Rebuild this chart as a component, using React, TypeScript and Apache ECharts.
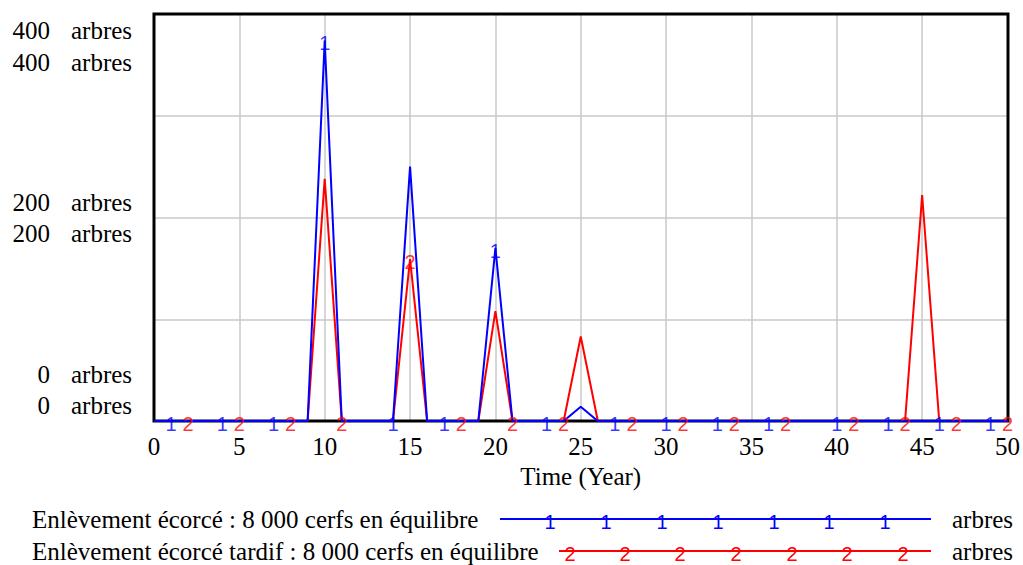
import React, { useEffect, useRef } from "react";
import * as echarts from "echarts";

const years: number[] = Array.from({ length: 51 }, (_, i) => i);
// Enlèvement écorcé : 8 000 cerfs en équilibre (series 1, blue)
const blueValues: number[] = [
  0, 0, 0, 0, 0, 0, 0, 0, 0, 0,
  374, 0, 0, 0, 0, 250, 0, 0, 0, 0,
  170, 0, 0, 0, 0, 14, 0, 0, 0, 0,
  0, 0, 0, 0, 0, 0, 0, 0, 0, 0,
  0, 0, 0, 0, 0, 0, 0, 0, 0, 0,
  0,
];
// Enlèvement écorcé tardif : 8 000 cerfs en équilibre (series 2, red)
const redValues: number[] = [
  0, 0, 0, 0, 0, 0, 0, 0, 0, 0,
  238, 0, 0, 0, 0, 159, 0, 0, 0, 0,
  108, 0, 0, 0, 0, 83, 0, 0, 0, 0,
  0, 0, 0, 0, 0, 0, 0, 0, 0, 0,
  0, 0, 0, 0, 0, 222, 0, 0, 0, 0,
  0,
];
const blueMarkerYears: number[] = [1, 4, 7, 10, 14, 17, 20, 23, 27, 30, 33, 36, 40, 43, 46, 49];
const redMarkerYears: number[] = [2, 5, 8, 11, 15, 18, 21, 24, 28, 31, 34, 37, 41, 44, 47, 50];
const yTickLabels: string[] = ["400", "400", "200", "200", "0", "0"];
const unitLabel = "arbres";
const seriesNames: string[] = [
  "Enlèvement écorcé : 8 000 cerfs en équilibre",
  "Enlèvement écorcé tardif : 8 000 cerfs en équilibre",
];
const xAxisName = "Time (Year)";

const SERIF = "Liberation Serif";
const SANS = "Liberation Sans";
const BLUE = "#0000ff";
const RED = "#ff0000";

export default function App() {
  const ref = useRef<HTMLDivElement>(null);
  useEffect(() => {
    if (!ref.current) return;
    const chart = echarts.init(ref.current, undefined, { renderer: "svg" });

    const yLabelYs = [30.5, 62.5, 202, 233, 374.5, 405.5];
    const graphics: any[] = [];
    graphics.push({
      type: "rect",
      z: 1,
      silent: true,
      shape: { x: 154, y: 14, width: 854, height: 407 },
      style: { fill: "none", stroke: "#000", lineWidth: 3 },
    });
    yTickLabels.forEach((t, i) => {
      graphics.push({
        type: "text",
        style: { text: t, x: 50, y: yLabelYs[i], align: "right", verticalAlign: "middle", fontSize: 25, fontFamily: SERIF, fill: "#000" },
      });
      graphics.push({
        type: "text",
        style: { text: unitLabel, x: 71, y: yLabelYs[i], align: "left", verticalAlign: "middle", fontSize: 25, fontFamily: SERIF, fill: "#000" },
      });
    });

    const legendRows = [
      { y: 519, color: BLUE, mark: "1", lineX1: 500, marks: [550, 606, 662, 718, 774, 829, 885] },
      { y: 551, color: RED, mark: "2", lineX1: 559, marks: [570, 625, 680, 736, 792, 847, 903] },
    ];
    legendRows.forEach((r, i) => {
      graphics.push({
        type: "text",
        style: { text: seriesNames[i], x: 32, y: r.y, align: "left", verticalAlign: "middle", fontSize: 25, fontFamily: SERIF, fill: "#000" },
      });
      graphics.push({
        type: "line",
        shape: { x1: r.lineX1, y1: r.y, x2: 931, y2: r.y },
        style: { stroke: r.color, lineWidth: 2 },
      });
      r.marks.forEach((mx) => {
        graphics.push({
          type: "text",
          style: { text: r.mark, x: mx, y: r.y + 3, align: "center", verticalAlign: "middle", fontSize: 20, fontFamily: SANS, fill: r.color },
        });
      });
      graphics.push({
        type: "text",
        style: { text: unitLabel, x: 952, y: r.y, align: "left", verticalAlign: "middle", fontSize: 25, fontFamily: SERIF, fill: "#000" },
      });
    });

    const markerSeries = (ys: number[], vals: number[], mark: string, color: string) => ({
      type: "scatter",
      data: ys.map((y) => [y, vals[y]]),
      symbol: "circle",
      symbolSize: 1,
      itemStyle: { color: "rgba(0,0,0,0)" },
      clip: false,
      silent: true,
      z: 5,
      label: {
        show: true,
        position: "inside",
        formatter: mark,
        color,
        fontFamily: SANS,
        fontSize: 20,
        offset: [0, 3],
      },
    });

    chart.setOption({
      animation: false,
      backgroundColor: "#fff",
      grid: { left: 154, top: 14, width: 854, height: 407, show: false },
      xAxis: {
        type: "value",
        min: 0,
        max: 50,
        interval: 5,
        axisLine: { show: false },
        axisTick: { show: false },
        axisLabel: { fontFamily: SERIF, fontSize: 25, color: "#000", margin: 13 },
        splitLine: { show: true, lineStyle: { color: "#c8c8c8", width: 1.5 } },
        name: xAxisName,
        nameLocation: "middle",
        nameGap: 43,
        nameTextStyle: { fontFamily: SERIF, fontSize: 25, color: "#000" },
      },
      yAxis: {
        type: "value",
        min: 0,
        max: 400,
        interval: 100,
        axisLine: { show: false },
        axisTick: { show: false },
        axisLabel: { show: false },
        splitLine: { show: true, lineStyle: { color: "#c8c8c8", width: 1.5 } },
      },
      series: [
        {
          type: "line",
          name: seriesNames[1],
          data: years.map((y, i) => [y, redValues[i]]),
          symbol: "none",
          lineStyle: { color: RED, width: 2 },
          z: 3,
        },
        {
          type: "line",
          name: seriesNames[0],
          data: years.map((y, i) => [y, blueValues[i]]),
          symbol: "none",
          lineStyle: { color: BLUE, width: 2 },
          z: 4,
        },
        markerSeries(blueMarkerYears, blueValues, "1", BLUE),
        markerSeries(redMarkerYears, redValues, "2", RED),
      ],
      graphic: graphics,
    });
    return () => chart.dispose();
  }, []);
  return <div ref={ref} style={{ position: "absolute", left: 0, top: 0, width: 1023, height: 565 }} />;
}
